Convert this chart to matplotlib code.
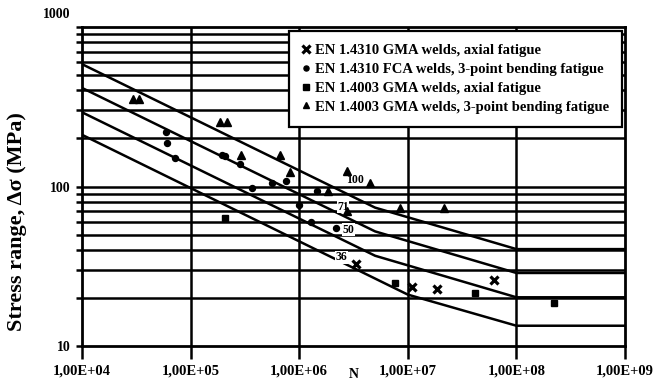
import matplotlib
matplotlib.use("Agg")
import matplotlib.pyplot as plt
import matplotlib.transforms as mtransforms
from matplotlib.ticker import FixedLocator, NullFormatter

# ---- data ----
curve_classes = ["100", "71", "50", "36"]
curve_N = {
    "100": [1e4, 5e6, 1e8, 1e9],
    "71": [1e4, 5e6, 1e8, 1e9],
    "50": [1e4, 5e6, 1e8, 1e9],
    "36": [1e4, 1e7, 1e8, 1e9],
}
curve_S = {
    "100": [585, 73.7, 40.5, 40.5],
    "71": [415, 52.3, 28.7, 28.7],
    "50": [292, 36.8, 20.2, 20.2],
    "36": [211, 21.0, 13.4, 13.4],
}

x_N = [3.35e6, 1.09e7, 1.87e7, 6.18e7]
x_S = [32.5, 23.4, 22.8, 25.9]

c_N = [5.94e4, 6.04e4, 7.2e4, 1.94e5, 2.08e5, 2.86e5, 3.66e5, 5.6e5, 7.54e5,
       1.0e6, 1.47e6, 1.28e6, 2.19e6]
c_S = [220.6, 188, 150, 157.6, 155, 137.8, 97.4, 105.6, 108.7,
       76.6, 94.1, 60.2, 54.7]

s_N = [2.08e5, 7.59e6, 4.19e7, 2.24e8]
s_S = [63.2, 24.8, 21.4, 18.7]

t_N = [2.93e4, 3.37e4, 1.87e5, 2.16e5, 2.90e5, 6.68e5, 8.15e5, 2.75e6, 4.45e6,
       1.86e6, 2.75e6, 8.53e6, 2.14e7]
t_S = [352, 352, 255, 255, 157.6, 157.6, 123.8, 125.6, 105.6,
       94.1, 70.2, 73.0, 73.0]

legend_labels = ["EN 1.4310 GMA welds, axial fatigue",
                 "EN 1.4310 FCA welds, 3-point bending fatigue",
                 "EN 1.4003 GMA welds, axial fatigue",
                 "EN 1.4003 GMA welds, 3-point bending fatigue"]

x_ticks = [1e4, 1e5, 1e6, 1e7, 1e8, 1e9]
x_ticklabels = ["1,00E+04", "1,00E+05", "1,00E+06", "1,00E+07", "1,00E+08", "1,00E+09"]
y_ticks = [10, 100, 1000]
y_ticklabels = ["10", "100", "1000"]
y_grid = [20, 30, 40, 50, 60, 70, 80, 90, 100, 200, 300, 400, 500, 600, 700, 800, 900]

# curve label positions (N, S)
curve_label_pos = {"100": (3.28e6, 110), "71": (2.54e6, 74.4),
                   "50": (2.83e6, 53.4), "36": (2.44e6, 36.1)}

# ---- plot ----
plt.rcParams['font.family'] = ['Liberation Serif', 'DejaVu Serif']
plt.rcParams['font.weight'] = 'bold'

fig = plt.figure(figsize=(6.59, 3.81), dpi=100)
ax = fig.add_axes([82/659, 1-346/381, (625-82)/659, (346-27)/381])
ax.set_xscale('log')
ax.set_yscale('log')
ax.set_xlim(1e4, 1e9)
ax.set_ylim(10, 1000)

lw = 1.8
for g in y_grid:
    ax.axhline(g, color='black', lw=lw, zorder=1)
for g in x_ticks[1:-1]:
    ax.axvline(g, color='black', lw=lw, zorder=1)

for k in curve_classes:
    ax.plot(curve_N[k], curve_S[k], color='black', lw=lw, zorder=2)
    px, py = curve_label_pos[k]
    ax.text(px, py, k, fontsize=8.5, fontweight='bold', ha='center', va='center',
            zorder=3, bbox=dict(facecolor='white', edgecolor='none', pad=0.3))

hx, = ax.plot(x_N, x_S, linestyle='none', marker='x', ms=6, mew=2.3, color='black', zorder=4)
hc, = ax.plot(c_N, c_S, linestyle='none', marker='o', ms=4.3, color='black', zorder=4)
hs, = ax.plot(s_N, s_S, linestyle='none', marker='s', ms=4.5, color='black', zorder=4)
ht, = ax.plot(t_N, t_S, linestyle='none', marker='^', ms=5.5, color='black', zorder=4)

for sp in ax.spines.values():
    sp.set_linewidth(2.0)
    sp.set_zorder(5)

ax.xaxis.set_major_locator(FixedLocator(x_ticks))
ax.set_xticklabels(x_ticklabels)
ax.xaxis.set_minor_locator(FixedLocator([]))
ax.yaxis.set_major_locator(FixedLocator(y_ticks))
ax.set_yticklabels(y_ticklabels)
ax.yaxis.set_minor_locator(FixedLocator(y_grid))
ax.yaxis.set_minor_formatter(NullFormatter())
ax.tick_params(axis='x', which='major', direction='out', length=9, width=1.8,
               labelsize=10.5, pad=4)
ax.tick_params(axis='y', which='both', direction='out', length=4, width=1.8,
               labelsize=10, pad=4)
for lab in ax.get_xticklabels() + ax.get_yticklabels():
    lab.set_fontweight('bold')

# shift the top "1000" label upwards as in the reference
lab1000 = ax.get_yticklabels()[-1]
lab1000.set_transform(lab1000.get_transform() +
                      mtransforms.ScaledTranslation(0, 10/72, fig.dpi_scale_trans))

ax.set_ylabel("Stress range, Δσ (MPa)", fontsize=16, fontweight='bold')
ax.yaxis.set_label_coords(-0.101, 0.39)
ax.set_xlabel("N", fontsize=10, fontweight='bold')
ax.xaxis.set_label_coords(0.50, -0.088)
ax.xaxis.label.set_va('center')

leg = ax.legend([hx, hc, hs, ht], legend_labels, loc='upper right',
                bbox_to_anchor=(0.9945, 0.9875), borderaxespad=0.0,
                frameon=True, fancybox=False,
                edgecolor='black', framealpha=1, handlelength=0.6,
                handletextpad=0.3, borderpad=0.9, labelspacing=0.38,
                markerscale=0.85, prop={'weight': 'bold', 'size': 10.5})
leg.get_frame().set_linewidth(1.6)
leg.set_zorder(6)

fig.savefig("out.png", dpi=100)
